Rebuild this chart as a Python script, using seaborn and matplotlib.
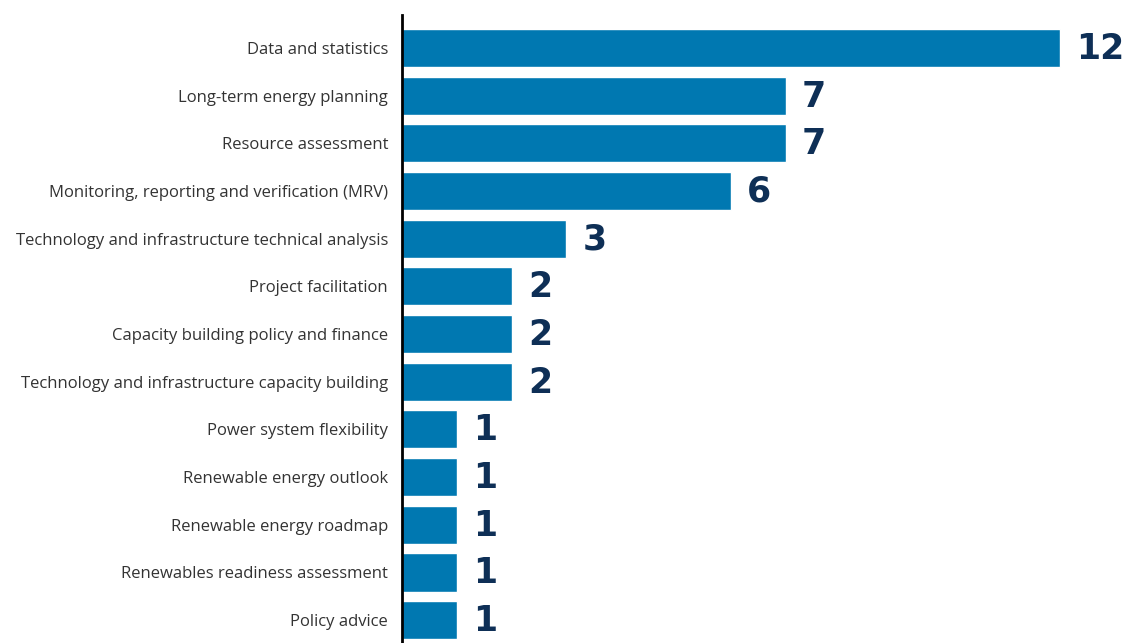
import matplotlib
matplotlib.use("Agg")
import matplotlib.pyplot as plt
import seaborn as sns
import pandas as pd

categories = [
    "Data and statistics",
    "Long-term energy planning",
    "Resource assessment",
    "Monitoring, reporting and verification (MRV)",
    "Technology and infrastructure technical analysis",
    "Project facilitation",
    "Capacity building policy and finance",
    "Technology and infrastructure capacity building",
    "Power system flexibility",
    "Renewable energy outlook",
    "Renewable energy roadmap",
    "Renewables readiness assessment",
    "Policy advice",
]
values = [12, 7, 7, 6, 3, 2, 2, 2, 1, 1, 1, 1, 1]

df = pd.DataFrame({"category": categories, "value": values})

sns.set_style("white")
plt.rcParams["font.family"] = ["Open Sans", "DejaVu Sans"]

fig = plt.figure(figsize=(11.28, 6.43), dpi=100)
ax = fig.add_axes([402 / 1128, 0, 1 - 402 / 1128, 1 - 15 / 643])

sns.barplot(data=df, x="value", y="category", orient="h", color="#0078B1",
            saturation=1, width=0.8, ax=ax)

ax.set_xlim(0, 13.25)
ax.set_ylim(12.48, -0.69)

for i, v in enumerate(values):
    ax.text(v + 0.3, i + 0.02, str(v), va="center", ha="left", fontsize=25,
            fontweight="heavy", family=["DejaVu Sans"], color="#0E2F56")

ax.set_xlabel("")
ax.set_ylabel("")
ax.set_xticks([])
ax.tick_params(axis="y", length=0, pad=10, labelsize=12, labelcolor="#333333")
for s in ["top", "right", "bottom"]:
    ax.spines[s].set_visible(False)
ax.spines["left"].set_color("black")
ax.spines["left"].set_linewidth(2)

fig.savefig("out.png", dpi=100)
